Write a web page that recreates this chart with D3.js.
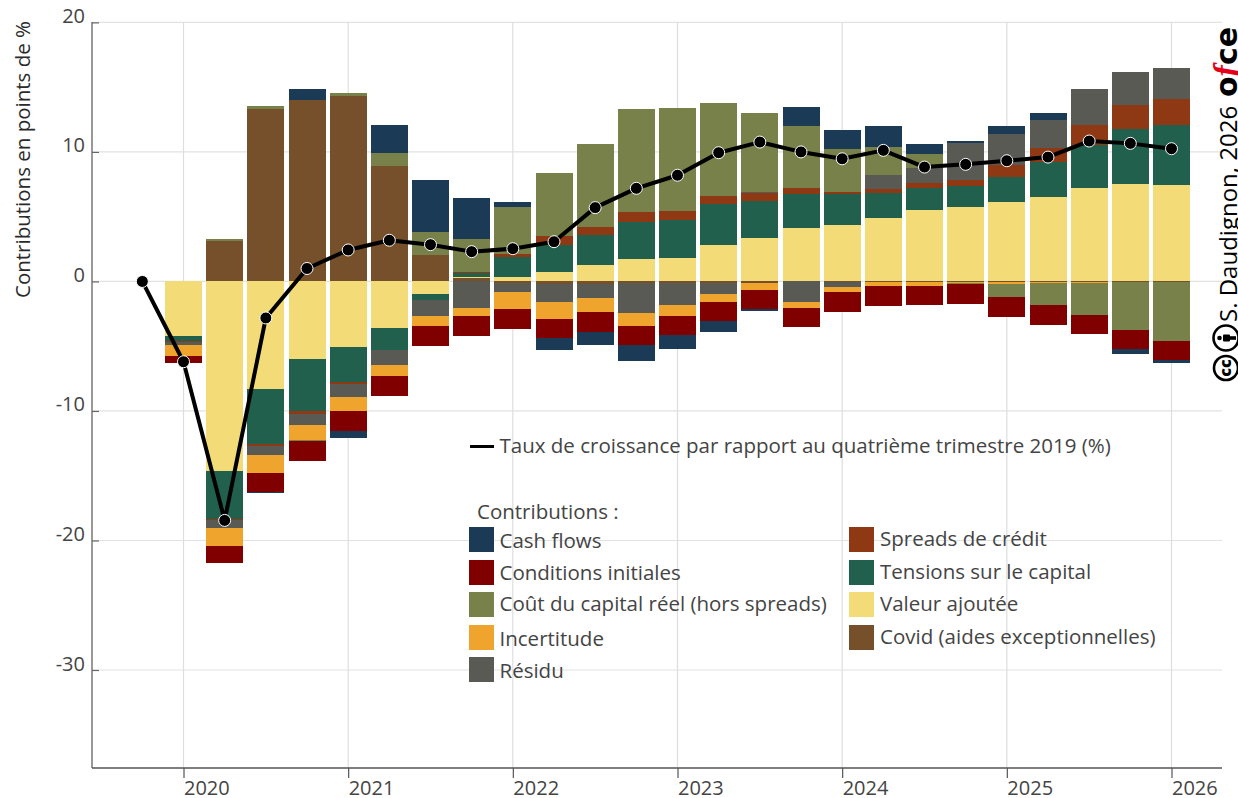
<!DOCTYPE html>
<html><head><meta charset="utf-8">
<style>html,body{margin:0;padding:0;background:#fff}svg{display:block}text{font-family:"Open Sans",sans-serif}</style>
<script src="https://cdn.jsdelivr.net/npm/d3@7/dist/d3.min.js"></script></head>
<body><svg id="c" width="1238" height="798"></svg>
<script>
const quarters=d3.range(25).map(i=>2020+i/4);
const growthQuarters=[2019.75].concat(quarters);
const growth=[0,-6.2,-18.45,-2.82,1.0,2.43,3.18,2.84,2.3,2.53,3.07,5.7,7.19,8.2,9.94,10.76,10.0,9.47,10.12,8.83,9.04,9.32,9.6,10.84,10.66,10.25];
const covid=[.05,3.12,13.31,14.0,14.31,8.91,2.04,.23,-.12,-.23,-.23,-.15,-.15,-.15,-.15,0,-.05,-.05,-.05,-.05,-.05,-.05,-.05,-.05,-.05];
const valeur=[-4.2,-14.6,-8.3,-5.98,-5.05,-3.59,-.96,.08,.35,.73,1.27,1.74,1.81,2.82,3.36,4.13,4.36,4.9,5.52,5.75,6.13,6.52,7.21,7.52,7.45];
const tensions=[-.39,-3.73,-4.24,-4.01,-2.7,-1.7,-.46,.36,1.54,2.08,2.31,2.85,2.96,3.16,2.83,2.62,2.39,1.91,1.7,1.62,1.93,2.7,3.32,4.24,4.63];
const spreads=[-.1,-.08,-.15,-.23,-.15,0,0,.08,.25,.69,.62,.77,.67,.62,.62,.46,.15,.33,.39,.46,.93,1.08,1.54,1.85,2.0];
const residu=[-.2,-.62,-.7,-.85,-1.0,-1.16,-1.23,-2.04,-.69,-1.39,-1.08,-2.31,-1.7,-.85,.1,-1.58,-.35,1.08,1.16,2.85,2.39,2.16,2.78,2.55,2.39];
const incertitude=[-.85,-1.39,-1.39,-1.16,-1.08,-.85,-.77,-.62,-1.31,-1.31,-1.08,-1.0,-.85,-.62,-.54,-.46,-.39,-.30,-.30,-.10,-.14,-.07,-.07,0,0];
const cout=[0,.15,.23,-.08,.23,1.0,1.77,2.55,3.6,4.86,6.4,7.95,7.95,7.18,6.1,4.78,3.32,2.16,1.08,-.08,-1.0,-1.7,-2.47,-3.67,-4.51];
const conditions=[-.54,-1.31,-1.47,-1.54,-1.54,-1.54,-1.54,-1.54,-1.54,-1.47,-1.54,-1.47,-1.47,-1.47,-1.47,-1.47,-1.54,-1.54,-1.47,-1.54,-1.54,-1.54,-1.47,-1.47,-1.47];
const cash=[0,0,-.08,.85,-.54,2.16,4.01,3.16,.39,-.93,-1.0,-1.23,-1.08,-.85,-.15,1.47,1.47,1.62,.77,.15,.62,.54,0,-.39,-.23];
const seriesKeys=["covid","valeur","tensions","spreads","residu","incertitude","cout","conditions","cash"];
const seriesData={covid,valeur,tensions,spreads,residu,incertitude,cout,conditions,cash};
const colors={cash:"#1b3a55",conditions:"#800000",cout:"#78814a",incertitude:"#efa42d",residu:"#595a54",spreads:"#8e3814",tensions:"#21604d",valeur:"#f3dc78",covid:"#75502a"};
const yTicks=[20,10,0,-10,-20,-30];
const xTicks=[2020,2021,2022,2023,2024,2025,2026];
const legendLeft=[["cash","Cash flows"],["conditions","Conditions initiales"],["cout","Coût du capital réel (hors spreads)"],["incertitude","Incertitude"],["residu","Résidu"]];
const legendRight=[["spreads","Spreads de crédit"],["tensions","Tensions sur le capital"],["valeur","Valeur ajoutée"],["covid","Covid (aides exceptionnelles)"]];

const svg=d3.select("#c");
const x=d3.scaleLinear().domain([2020,2026]).range([183.5,1171.5]);
const y=d3.scaleLinear().domain([20,-30]).range([22.4,670]);
const L=92,R=1222,T=22,B=768,txt="#444";

// grid
svg.append("g").selectAll("line").data(yTicks).join("line").attr("x1",L).attr("x2",R)
  .attr("y1",d=>y(d)).attr("y2",d=>y(d)).attr("stroke","#e2e2e2").attr("stroke-width",1.2);
svg.append("g").selectAll("line").data(xTicks).join("line").attr("y1",T).attr("y2",B)
  .attr("x1",d=>x(d)).attr("x2",d=>x(d)).attr("stroke","#dedede").attr("stroke-width",1.2);

// bars
const rows=quarters.map((q,i)=>{const r={q};seriesKeys.forEach(k=>r[k]=seriesData[k][i]);return r;});
const stacked=d3.stack().keys(seriesKeys).offset(d3.stackOffsetDiverging)(rows);
const barW=37;
svg.append("g").attr("shape-rendering","crispEdges").selectAll("g").data(stacked).join("g").attr("fill",d=>colors[d.key])
  .selectAll("rect").data(d=>d.filter(p=>p[0]!==p[1])).join("rect")
  .attr("x",d=>x(d.data.q)-barW/2).attr("width",barW)
  .attr("y",d=>y(Math.max(d[0],d[1]))).attr("height",d=>Math.abs(y(d[0])-y(d[1])));

// axes
const gy=svg.append("g").attr("transform",`translate(${L},0)`).call(d3.axisLeft(y).tickValues(yTicks).tickFormat(d=>String(d)).tickSize(-7).tickPadding(0));
gy.select(".domain").attr("d",`M0,${T}V${B}`).attr("stroke","#777").attr("stroke-width",1.5);
gy.selectAll(".tick line").attr("stroke","#666").attr("stroke-width",1.2);
gy.selectAll(".tick text").attr("x",-7).attr("dy",0).attr("y",0).attr("fill",txt)
  .style("font-family",'"Open Sans",sans-serif').style("font-size","20px").attr("text-anchor","end");
const gx=svg.append("g").attr("transform",`translate(0,${B})`).call(d3.axisBottom(x).tickValues(xTicks).tickFormat(d3.format("d")).tickSize(10));
gx.select(".domain").attr("d",`M${L},0H${R}`).attr("stroke","#555").attr("stroke-width",1.3);
gx.selectAll(".tick line").attr("stroke","#555").attr("stroke-width",1.2);
gx.selectAll(".tick text").attr("x",0).attr("dy",0).attr("y",27).attr("fill",txt)
  .style("font-family",'"Open Sans",sans-serif').style("font-size","20px").attr("text-anchor","start");

// y title
svg.append("text").attr("transform","translate(30,298) rotate(-90)").attr("fill","#2a2a2a").style("font-size","20.5px").text("Contributions en points de %");

// growth line and points
svg.append("path").datum(growth).attr("fill","none").attr("stroke","#000").attr("stroke-width",4).attr("stroke-linejoin","round")
  .attr("d",d3.line().x((d,i)=>x(growthQuarters[i])).y(d=>y(d)));
svg.append("g").selectAll("circle").data(growth).join("circle").attr("cx",(d,i)=>x(growthQuarters[i])).attr("cy",d=>y(d))
  .attr("r",6).attr("fill","#000").attr("stroke","#fff").attr("stroke-width",1);

// legend
const lg=svg.append("g").attr("fill",txt).style("font-size","20.5px");
lg.append("line").attr("x1",470).attr("x2",494).attr("y1",446.5).attr("y2",446.5).attr("stroke","#000").attr("stroke-width",3);
lg.append("text").attr("x",499.5).attr("y",453).text("Taux de croissance par rapport au quatrième trimestre 2019 (%)");
lg.append("text").attr("x",477).attr("y",519).text("Contributions :");
const leftY=[527,560,592,625,657],leftBase=[548,580,611,646,678];
const rightBase=[545.5,578.5,610.5,643.5];
legendLeft.forEach(([k,t],i)=>{
  lg.append("rect").attr("x",469).attr("y",leftY[i]).attr("width",25).attr("height",25).attr("fill",colors[k]);
  lg.append("text").attr("x",499.5).attr("y",leftBase[i]).text(t);
});
legendRight.forEach(([k,t],i)=>{
  lg.append("rect").attr("x",849).attr("y",leftY[i]).attr("width",25).attr("height",25).attr("fill",colors[k]);
  lg.append("text").attr("x",880).attr("y",rightBase[i]).text(t);
});

// credit
svg.append("text").attr("transform","translate(1237,322) rotate(-90)").attr("fill","#000").style("font-size","24px").text("S. Daudignon, 2026");
const logo=svg.append("text").attr("transform","translate(1237,97) rotate(-90)").attr("fill","#000").style("font-size","30px").style("font-weight","800");
logo.append("tspan").style("font-family",'"DejaVu Sans",sans-serif').text("o");
logo.append("tspan").style("font-family",'"Liberation Serif",serif').style("font-style","italic").style("font-size","34px").attr("fill","#e2001a").text("f");
logo.append("tspan").style("font-family",'"DejaVu Sans",sans-serif').text("ce");
// licence badges
const cc=svg.append("g").attr("transform","translate(1226,368) rotate(-90)");
cc.append("circle").attr("r",12).attr("fill","#fff").attr("stroke","#000").attr("stroke-width",2.6);
cc.append("text").attr("text-anchor","middle").attr("y",5).style("font-size","16px").style("font-weight","800").attr("fill","#000").text("cc");
const by=svg.append("g").attr("transform","translate(1226,338) rotate(-90)");
by.append("circle").attr("r",12.5).attr("fill","#fff").attr("stroke","#000").attr("stroke-width",2.6);
by.append("circle").attr("cy",-6.5).attr("r",2.3).attr("fill","#000");
by.append("rect").attr("x",-3.5).attr("y",-3).attr("width",7).attr("height",7).attr("rx",1).attr("fill","#000");
by.append("rect").attr("x",-1.8).attr("y",3).attr("width",3.6).attr("height",7).attr("fill","#000");
</script></body></html>
